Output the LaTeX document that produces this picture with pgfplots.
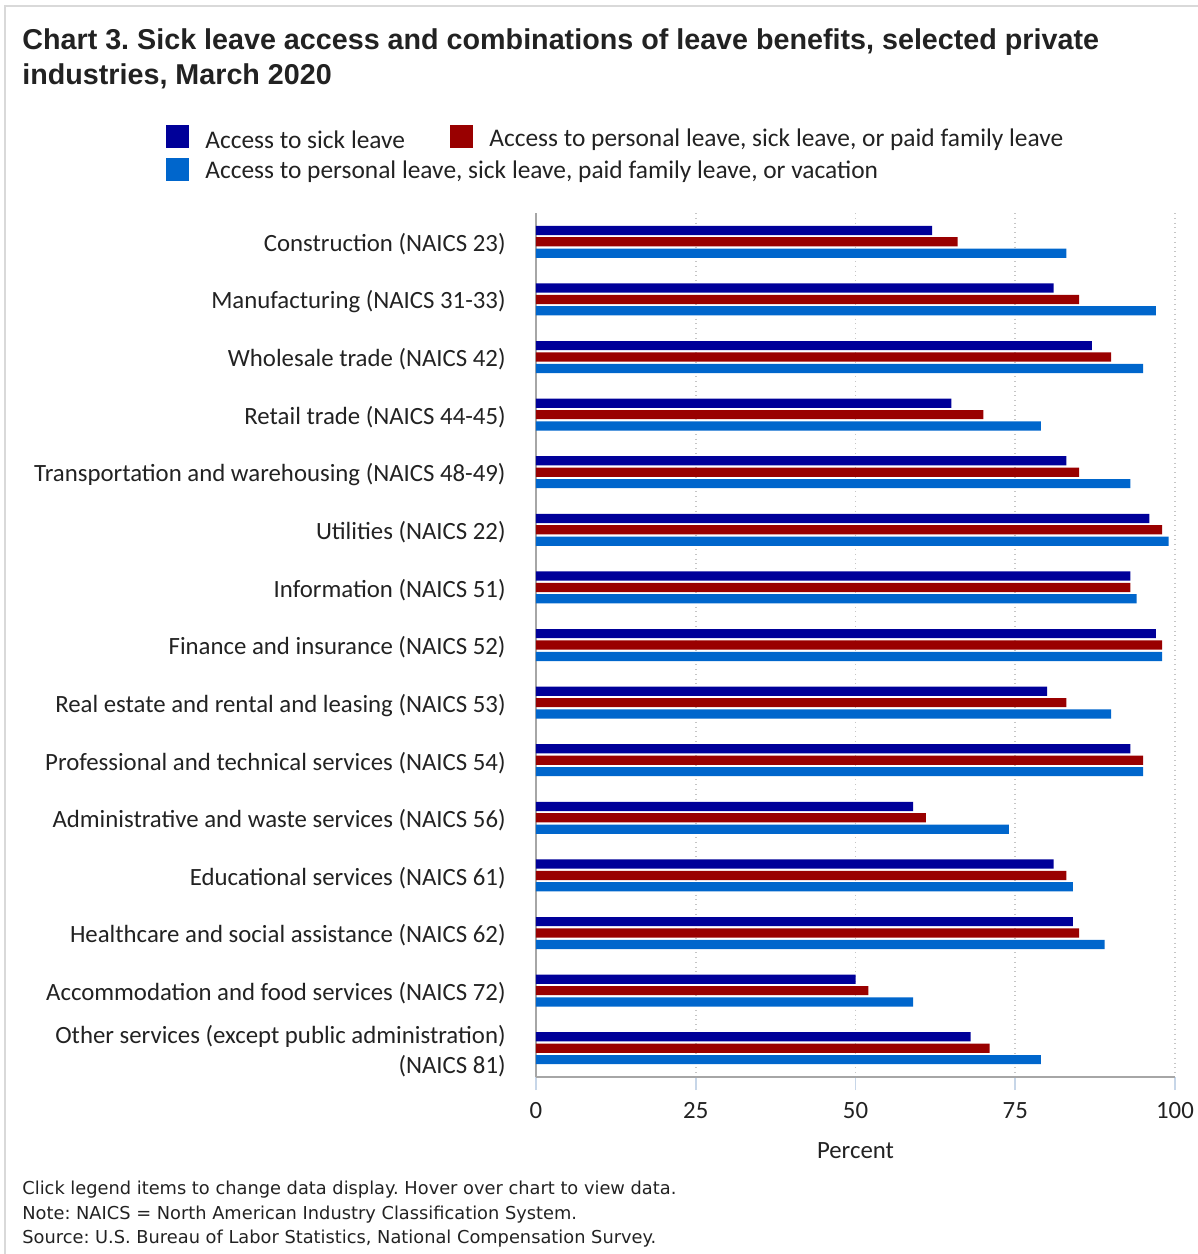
\documentclass[border=0pt]{standalone}
\usepackage{fontspec}
\setmainfont{Carlito}
\newfontfamily\titlefont{Liberation Sans}
\newfontfamily\notefont{DejaVu Sans}
\usepackage{pgfplots}
\pgfplotsset{compat=1.18}
\definecolor{sickblue}{HTML}{000099}
\definecolor{persred}{HTML}{990000}
\definecolor{vacblue}{HTML}{0066CC}
\definecolor{txt}{HTML}{222222}
\definecolor{axisgray}{HTML}{A6A6A6}
\definecolor{tickblue}{HTML}{C7D6E8}
\frenchspacing

\begin{document}
\begin{tikzpicture}
\useasboundingbox (0,0) rectangle (599pt,-627pt);
% outer frame
\draw[gray!30, line width=1.2pt] (2.5pt,-640pt) -- (2.5pt,-3pt) -- (610pt,-3pt);

% title
\node[anchor=base west, inner sep=0pt, text=txt, font=\titlefont\bfseries\fontsize{14.35}{17}\selectfont] at (11pt,-24.5pt)
  {Chart 3. Sick leave access and combinations of leave benefits, selected private};
\node[anchor=base west, inner sep=0pt, text=txt, font=\titlefont\bfseries\fontsize{14.35}{17}\selectfont] at (11pt,-42pt)
  {industries, March 2020};

% legend
\fill[sickblue] (83pt,-62.5pt) rectangle (94.5pt,-74pt);
\node[anchor=west, inner sep=0pt, text=txt, font=\fontsize{12.7}{15}\selectfont] at (102.5pt,-70pt) {Access to sick leave};
\fill[persred] (225pt,-62.5pt) rectangle (236.5pt,-74pt);
\node[anchor=west, inner sep=0pt, text=txt, font=\fontsize{12.7}{15}\selectfont] at (244.5pt,-70pt) {Access to personal leave, sick leave, or paid family leave};
\fill[vacblue] (83pt,-79pt) rectangle (94.5pt,-90.5pt);
\node[anchor=west, inner sep=0pt, text=txt, font=\fontsize{12.7}{15}\selectfont] at (102.5pt,-86pt) {Access to personal leave, sick leave, paid family leave, or vacation};

\begin{axis}[
  at={(268pt,-538.5pt)}, anchor=south west,
  scale only axis, width=319.5pt, height=432pt,
  xbar, bar width=4.6pt,
  xmin=0, xmax=100, ymin=-0.5, ymax=14.5,
  y dir=reverse,
  xtick={0,25,50,75,100},
  ytick={0,...,14},
  yticklabels={
    Construction (NAICS 23),
    Manufacturing (NAICS 31-33),
    Wholesale trade (NAICS 42),
    Retail trade (NAICS 44-45),
    Transportation and warehousing (NAICS 48-49),
    Utilities (NAICS 22),
    Information (NAICS 51),
    Finance and insurance (NAICS 52),
    Real estate and rental and leasing (NAICS 53),
    Professional and technical services (NAICS 54),
    Administrative and waste services (NAICS 56),
    Educational services (NAICS 61),
    Healthcare and social assistance (NAICS 62),
    Accommodation and food services (NAICS 72),
    {Other services (except public administration)\\(NAICS 81)}},
  yticklabel style={font=\fontsize{12.4}{15}\selectfont, text=txt, align=right, inner sep=0pt, xshift=-8.5pt, yshift=-1.3pt},
  xticklabel style={font=\fontsize{12.4}{15}\selectfont, text=txt, yshift=-2.5pt},
  /pgf/number format/assume math mode=true,
  ytick style={draw=none},
  xtick style={draw=tickblue, line width=0.8pt},
  xtick align=outside,
  major tick length=6.5pt,
  axis x line*=bottom, axis y line*=left,
  axis line style={axisgray, line width=1.2pt, -},
  xmajorgrids,
  grid style={dotted, gray!45, line width=0.9pt},
  xlabel={Percent},
  xlabel style={font=\fontsize{12.4}{15}\selectfont, text=txt, at={(axis description cs:0.5,0)}, anchor=center, yshift=-37pt},
  clip=false,
]
% access to sick leave
\addplot[fill=sickblue, draw=none, bar shift=5.7pt] coordinates {
  (62,0) (81,1) (87,2) (65,3) (83,4) (96,5) (93,6) (97,7)
  (80,8) (93,9) (59,10) (81,11) (84,12) (50,13) (68,14)};
% personal, sick or paid family leave
\addplot[fill=persred, draw=none, bar shift=0pt] coordinates {
  (66,0) (85,1) (90,2) (70,3) (85,4) (98,5) (93,6) (98,7)
  (83,8) (95,9) (61,10) (83,11) (85,12) (52,13) (71,14)};
% personal, sick, paid family leave or vacation
\addplot[fill=vacblue, draw=none, bar shift=-5.7pt] coordinates {
  (83,0) (97,1) (95,2) (79,3) (93,4) (99,5) (94,6) (98,7)
  (90,8) (95,9) (74,10) (84,11) (89,12) (59,13) (79,14)};
\end{axis}

% notes
\node[anchor=west, inner sep=0pt, text=txt, font=\notefont\fontsize{8.9}{10}\selectfont] at (11pt,-595pt)
  {Click legend items to change data display. Hover over chart to view data.};
\node[anchor=west, inner sep=0pt, text=txt, font=\notefont\fontsize{8.9}{10}\selectfont] at (11pt,-607.5pt)
  {Note: NAICS = North American Industry Classification System.};
\node[anchor=west, inner sep=0pt, text=txt, font=\notefont\fontsize{8.9}{10}\selectfont] at (11pt,-619.5pt)
  {Source: U.S. Bureau of Labor Statistics, National Compensation Survey.};
\end{tikzpicture}
\end{document}
